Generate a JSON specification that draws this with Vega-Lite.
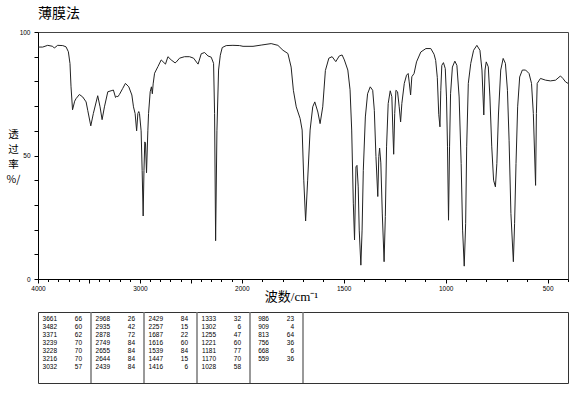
{
  "$schema": "https://vega.github.io/schema/vega-lite/v6.json",
  "background": "white",
  "padding": {"left": 5, "top": 6, "right": 0, "bottom": 0},
  "spacing": 6,
  "config": {"font": "Liberation Sans", "view": {"stroke": null}},
  "vconcat": [
    {
      "width": 530,
      "height": 247,
      "title": {"text": "薄膜法", "anchor": "start", "frame": "group", "font": "Noto Sans CJK SC", "fontSize": 14, "fontWeight": "normal", "offset": 8, "color": "#000"},
      "view": {"stroke": "#444", "strokeWidth": 1},
      "data": {"values": [
        {"wn":4000,"t":93.9},{"wn":3954,"t":93.9},{"wn":3905,"t":94.6},{"wn":3856,"t":94.2},{"wn":3840,"t":93.5},{"wn":3807,"t":94.6},{"wn":3757,"t":94.5},{"wn":3725,"t":94},{"wn":3702,"t":92},{"wn":3686,"t":87.2},{"wn":3676,"t":77.8},{"wn":3661,"t":68.5},{"wn":3640,"t":72},{"wn":3627,"t":73},{"wn":3594,"t":74.7},{"wn":3561,"t":73.7},{"wn":3528,"t":71.7},{"wn":3512,"t":68.3},{"wn":3482,"t":62},{"wn":3457,"t":67},{"wn":3414,"t":74.2},{"wn":3391,"t":69.7},{"wn":3371,"t":64.5},{"wn":3348,"t":69.7},{"wn":3315,"t":75.8},{"wn":3283,"t":76.2},{"wn":3260,"t":76.5},{"wn":3239,"t":73.5},{"wn":3228,"t":74},{"wn":3216,"t":73.8},{"wn":3201,"t":74.7},{"wn":3168,"t":77.2},{"wn":3142,"t":79.2},{"wn":3109,"t":77.8},{"wn":3079,"t":74.5},{"wn":3063,"t":69.7},{"wn":3047,"t":67},{"wn":3032,"t":60},{"wn":3020,"t":67},{"wn":3011,"t":67.8},{"wn":3004,"t":67},{"wn":2988,"t":60},{"wn":2978,"t":44},{"wn":2968,"t":25.5},{"wn":2960,"t":44},{"wn":2952,"t":55.5},{"wn":2945,"t":55},{"wn":2935,"t":43},{"wn":2922,"t":60},{"wn":2915,"t":67},{"wn":2899,"t":75.8},{"wn":2887,"t":77.8},{"wn":2878,"t":75},{"wn":2870,"t":79},{"wn":2856,"t":83.3},{"wn":2823,"t":86},{"wn":2791,"t":88.7},{"wn":2749,"t":87},{"wn":2725,"t":90},{"wn":2693,"t":88.7},{"wn":2655,"t":87.5},{"wn":2644,"t":87.8},{"wn":2611,"t":89.4},{"wn":2562,"t":90},{"wn":2513,"t":90},{"wn":2473,"t":89.4},{"wn":2439,"t":87.5},{"wn":2429,"t":87},{"wn":2398,"t":91.2},{"wn":2365,"t":91.7},{"wn":2332,"t":90.3},{"wn":2300,"t":89.8},{"wn":2277,"t":87.3},{"wn":2267,"t":67},{"wn":2257,"t":15.5},{"wn":2244,"t":60},{"wn":2228,"t":84.6},{"wn":2211,"t":90.6},{"wn":2192,"t":93.7},{"wn":2153,"t":94.5},{"wn":2087,"t":94.6},{"wn":2022,"t":94.5},{"wn":1994,"t":94.2},{"wn":1945,"t":94.2},{"wn":1905,"t":94.7},{"wn":1856,"t":95.3},{"wn":1823,"t":94.6},{"wn":1798,"t":92.6},{"wn":1774,"t":91.3},{"wn":1758,"t":85.8},{"wn":1747,"t":76.4},{"wn":1733,"t":69.7},{"wn":1714,"t":65},{"wn":1704,"t":60.3},{"wn":1696,"t":40},{"wn":1687,"t":23.5},{"wn":1677,"t":40},{"wn":1665,"t":60.3},{"wn":1652,"t":69.7},{"wn":1642,"t":71.7},{"wn":1627,"t":67.6},{"wn":1616,"t":62.9},{"wn":1603,"t":69.7},{"wn":1590,"t":84.4},{"wn":1573,"t":89.4},{"wn":1557,"t":90},{"wn":1539,"t":88},{"wn":1522,"t":90.3},{"wn":1508,"t":90.7},{"wn":1497,"t":88.7},{"wn":1480,"t":84.6},{"wn":1469,"t":76.6},{"wn":1461,"t":60.3},{"wn":1453,"t":30.7},{"wn":1447,"t":15.8},{"wn":1440,"t":45.4},{"wn":1435,"t":46},{"wn":1429,"t":37.3},{"wn":1424,"t":19.8},{"wn":1416,"t":5.6},{"wn":1410,"t":19.8},{"wn":1404,"t":44},{"wn":1394,"t":65.6},{"wn":1383,"t":75},{"wn":1370,"t":77.8},{"wn":1358,"t":76.4},{"wn":1350,"t":68.3},{"wn":1342,"t":49.6},{"wn":1333,"t":33.4},{"wn":1328,"t":49.6},{"wn":1324,"t":53},{"wn":1318,"t":47},{"wn":1311,"t":26.7},{"wn":1302,"t":7},{"wn":1296,"t":25.3},{"wn":1290,"t":53.5},{"wn":1282,"t":71},{"wn":1272,"t":76.2},{"wn":1264,"t":73.8},{"wn":1259,"t":60.3},{"wn":1255,"t":50.5},{"wn":1250,"t":67},{"wn":1244,"t":76.4},{"wn":1236,"t":75.8},{"wn":1228,"t":69.7},{"wn":1221,"t":63.6},{"wn":1215,"t":71},{"wn":1203,"t":79.2},{"wn":1192,"t":82.5},{"wn":1184,"t":83.2},{"wn":1179,"t":79.8},{"wn":1172,"t":74.5},{"wn":1166,"t":81.9},{"wn":1155,"t":83.2},{"wn":1143,"t":87.9},{"wn":1122,"t":91.9},{"wn":1097,"t":93.3},{"wn":1073,"t":93.3},{"wn":1057,"t":91},{"wn":1049,"t":88.5},{"wn":1041,"t":81.5},{"wn":1034,"t":66.7},{"wn":1028,"t":61.6},{"wn":1024,"t":76.4},{"wn":1019,"t":86.5},{"wn":1011,"t":87.6},{"wn":1002,"t":85.2},{"wn":996,"t":73.7},{"wn":991,"t":53.5},{"wn":986,"t":23.8},{"wn":981,"t":53.5},{"wn":976,"t":75},{"wn":967,"t":85.8},{"wn":955,"t":88.2},{"wn":945,"t":86.5},{"wn":934,"t":73.7},{"wn":924,"t":46.7},{"wn":917,"t":19.8},{"wn":909,"t":5.2},{"wn":902,"t":22.4},{"wn":897,"t":53.5},{"wn":889,"t":79.2},{"wn":877,"t":87.3},{"wn":863,"t":92.6},{"wn":847,"t":94.6},{"wn":832,"t":92.6},{"wn":822,"t":84.6},{"wn":813,"t":66.4},{"wn":807,"t":84.6},{"wn":801,"t":87.9},{"wn":791,"t":85.9},{"wn":783,"t":73.7},{"wn":774,"t":53.5},{"wn":765,"t":40},{"wn":756,"t":37.3},{"wn":749,"t":46.7},{"wn":741,"t":66.8},{"wn":730,"t":84.6},{"wn":718,"t":89.3},{"wn":707,"t":87.3},{"wn":697,"t":76.4},{"wn":689,"t":56.2},{"wn":680,"t":26.5},{"wn":668,"t":7},{"wn":662,"t":22.4},{"wn":655,"t":46.7},{"wn":647,"t":69.7},{"wn":637,"t":81.8},{"wn":624,"t":84.6},{"wn":608,"t":84.6},{"wn":591,"t":83.2},{"wn":579,"t":79.2},{"wn":570,"t":67},{"wn":559,"t":37.9},{"wn":555,"t":67},{"wn":551,"t":79.2},{"wn":535,"t":81.2},{"wn":510,"t":80.5},{"wn":486,"t":80.2},{"wn":461,"t":80.5},{"wn":437,"t":82.2},{"wn":425,"t":81.2},{"wn":412,"t":79.8},{"wn":400,"t":79.2}
      ]},
      "mark": {"type": "line", "color": "#222", "strokeWidth": 1},
      "encoding": {
        "x": {
          "field": "wn", "type": "quantitative", "sort": null,
          "scale": {"domain": [4000, 2000, 400], "range": [0, 203.8, 530], "nice": false, "zero": false},
          "axis": {
            "values": [4000,3900,3800,3700,3600,3500,3400,3300,3200,3100,3000,2900,2800,2700,2600,2500,2400,2300,2200,2100,2000,1900,1800,1700,1600,1500,1400,1300,1200,1100,1000,900,800,700,600,500,400],
            "format": "d",
            "labelExpr": "indexof([4000,3000,2000,1500,1000,500], datum.value) >= 0 ? datum.label : ''",
            "labelFont": "Liberation Sans", "labelFontSize": 6.5, "labelColor": "#000", "labelPadding": 2,
            "labelOverlap": false, "labelFlush": false,
            "tickSize": {"condition": {"test": "datum.value % 500 === 0", "value": 4}, "value": 2.5},
            "tickColor": "#000", "domainColor": "#000", "grid": false,
            "title": "波数/cm⁻¹",
            "titleFont": "Liberation Serif, Noto Sans CJK SC", "titleFontSize": 13, "titleFontWeight": "normal", "titleColor": "#000",
            "titleX": 253, "titleY": 17, "titleBaseline": "middle", "titleAlign": "center"
          }
        },
        "y": {
          "field": "t", "type": "quantitative",
          "scale": {"domain": [0, 100], "nice": false, "zero": false},
          "axis": {
            "values": [0,10,20,30,40,50,60,70,80,90,100],
            "labelExpr": "datum.value % 50 === 0 ? datum.label : ''",
            "labelFont": "Liberation Sans", "labelFontSize": 6.5, "labelColor": "#000", "labelPadding": 4,
            "tickSize": 4, "tickColor": "#000", "domainColor": "#000", "grid": false,
            "title": ["透", "过", "率", "%/"],
            "titleFont": "Noto Sans CJK SC", "titleFontSize": 10.5, "titleFontWeight": "normal", "titleColor": "#000",
            "titleAngle": 0, "titleX": -25, "titleY": 97, "titleBaseline": "top", "titleAlign": "center", "titleLineHeight": 15
          }
        }
      }
    },
    {
      "width": 530,
      "height": 71,
      "view": {"stroke": "#333", "strokeWidth": 1},
      "layer": [
        {
          "data": {"values": [{"sep": 1}, {"sep": 2}, {"sep": 3}, {"sep": 4}, {"sep": 5}]},
          "mark": {"type": "rule", "color": "#777", "strokeWidth": 1.5},
          "encoding": {"x": {"field": "sep", "type": "quantitative", "scale": {"domain": [0, 10], "nice": false, "zero": false}, "axis": null}}
        },
        {
          "data": {"name": "peaks", "values": [
            {"col":0,"row":0,"wn":3661,"t":66},{"col":0,"row":1,"wn":3482,"t":60},{"col":0,"row":2,"wn":3371,"t":62},{"col":0,"row":3,"wn":3239,"t":70},{"col":0,"row":4,"wn":3228,"t":70},{"col":0,"row":5,"wn":3216,"t":70},{"col":0,"row":6,"wn":3032,"t":57},
            {"col":1,"row":0,"wn":2968,"t":26},{"col":1,"row":1,"wn":2935,"t":42},{"col":1,"row":2,"wn":2878,"t":72},{"col":1,"row":3,"wn":2749,"t":84},{"col":1,"row":4,"wn":2655,"t":84},{"col":1,"row":5,"wn":2644,"t":84},{"col":1,"row":6,"wn":2439,"t":84},
            {"col":2,"row":0,"wn":2429,"t":84},{"col":2,"row":1,"wn":2257,"t":15},{"col":2,"row":2,"wn":1687,"t":22},{"col":2,"row":3,"wn":1616,"t":60},{"col":2,"row":4,"wn":1539,"t":84},{"col":2,"row":5,"wn":1447,"t":15},{"col":2,"row":6,"wn":1416,"t":6},
            {"col":3,"row":0,"wn":1333,"t":32},{"col":3,"row":1,"wn":1302,"t":6},{"col":3,"row":2,"wn":1255,"t":47},{"col":3,"row":3,"wn":1221,"t":60},{"col":3,"row":4,"wn":1181,"t":77},{"col":3,"row":5,"wn":1170,"t":70},{"col":3,"row":6,"wn":1028,"t":58},
            {"col":4,"row":0,"wn":986,"t":23},{"col":4,"row":1,"wn":909,"t":4},{"col":4,"row":2,"wn":813,"t":64},{"col":4,"row":3,"wn":756,"t":36},{"col":4,"row":4,"wn":668,"t":6},{"col":4,"row":5,"wn":559,"t":36}
          ]},
          "layer": [
            {
              "mark": {"type": "text", "align": "right", "baseline": "middle", "dx": 19, "font": "Liberation Sans", "fontSize": 6.5, "color": "#000"},
              "encoding": {
                "x": {"field": "col", "type": "quantitative", "scale": {"domain": [0, 10], "nice": false, "zero": false}, "axis": null},
                "y": {"field": "row", "type": "quantitative", "scale": {"domain": [-0.875, 8], "reverse": true, "nice": false, "zero": false}, "axis": null},
                "text": {"field": "wn", "type": "quantitative", "format": "d"}
              }
            },
            {
              "mark": {"type": "text", "align": "right", "baseline": "middle", "dx": 44, "font": "Liberation Sans", "fontSize": 6.5, "color": "#000"},
              "encoding": {
                "x": {"field": "col", "type": "quantitative", "axis": null},
                "y": {"field": "row", "type": "quantitative", "axis": null},
                "text": {"field": "t", "type": "quantitative", "format": "d"}
              }
            }
          ]
        }
      ]
    }
  ]
}
